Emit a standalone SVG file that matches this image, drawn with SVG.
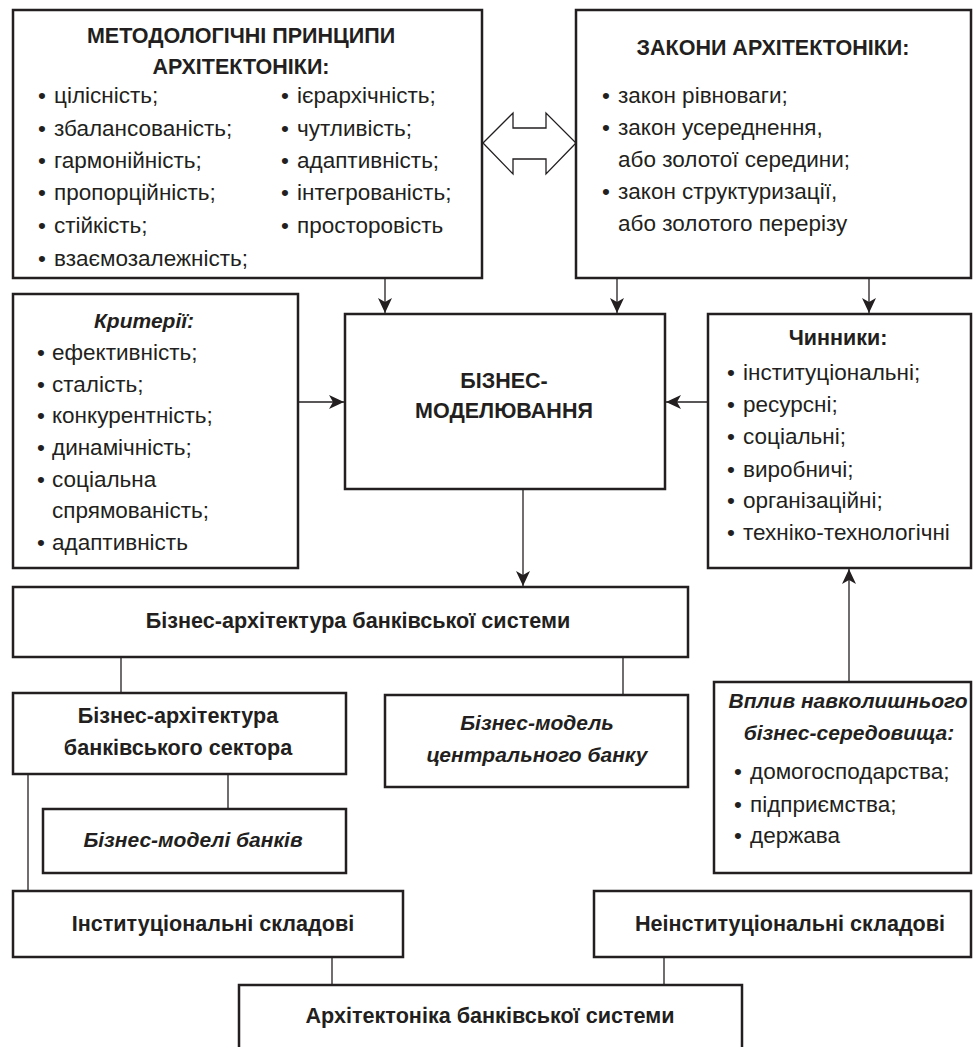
<svg xmlns="http://www.w3.org/2000/svg" width="973" height="1047" viewBox="0 0 973 1047">
<style>
.box{fill:#fff;stroke:#231f20;stroke-width:2.5}
.ln{fill:none;stroke:#231f20;stroke-width:1.3}
text{font-family:"Liberation Sans",Arial,sans-serif;fill:#231f20}
.t{font-size:21.6px;font-weight:bold}
.h{font-size:21.5px;font-weight:bold}
.i{font-size:21px;font-weight:bold;font-style:italic}
.it{font-size:22.5px}
.c{text-anchor:middle}
</style>
<defs>
<marker id="ah" viewBox="0 0 15 14" refX="15" refY="7" markerWidth="15" markerHeight="14" markerUnits="userSpaceOnUse" orient="auto">
<path d="M0,0 L15,7 L0,14 L4,7 Z" fill="#231f20"/>
</marker>
</defs>
<rect width="973" height="1047" fill="#fff"/>
<g id="connectors">
<polygon points="483,143 513,113 513,128 546,128 546,113 576,143 546,174 546,159 513,159 513,174" fill="#fff" stroke="#231f20" stroke-width="1.3"/>
<line class="ln" x1="385" y1="279" x2="385" y2="313" marker-end="url(#ah)"/>
<line class="ln" x1="617" y1="279" x2="617" y2="313" marker-end="url(#ah)"/>
<line class="ln" x1="869" y1="279" x2="869" y2="313" marker-end="url(#ah)"/>
<line class="ln" x1="298" y1="402" x2="344" y2="402" marker-end="url(#ah)"/>
<line class="ln" x1="708" y1="402" x2="666" y2="402" marker-end="url(#ah)"/>
<line class="ln" x1="523" y1="489" x2="523" y2="586" marker-end="url(#ah)"/>
<line class="ln" x1="849" y1="682" x2="849" y2="569" marker-end="url(#ah)"/>
<line class="ln" x1="121" y1="657" x2="121" y2="693"/>
<line class="ln" x1="623" y1="657" x2="623" y2="695"/>
<line class="ln" x1="228" y1="774" x2="228" y2="809"/>
<line class="ln" x1="28" y1="774" x2="28" y2="891"/>
<line class="ln" x1="332" y1="957" x2="332" y2="985"/>
<line class="ln" x1="664" y1="957" x2="664" y2="985"/>
</g>
<g id="principles">
<rect class="box" x="13" y="10" width="469" height="268"/>
<text class="h c" x="241" y="43">МЕТОДОЛОГІЧНІ ПРИНЦИПИ</text>
<text class="h c" x="241" y="74">АРХІТЕКТОНІКИ:</text>
<text class="it"><tspan x="38" y="103">•</tspan><tspan x="54">цілісність;</tspan></text>
<text class="it"><tspan x="38" y="136">•</tspan><tspan x="54">збалансованість;</tspan></text>
<text class="it"><tspan x="38" y="168">•</tspan><tspan x="54">гармонійність;</tspan></text>
<text class="it"><tspan x="38" y="200">•</tspan><tspan x="54">пропорційність;</tspan></text>
<text class="it"><tspan x="38" y="233">•</tspan><tspan x="54">стійкість;</tspan></text>
<text class="it"><tspan x="38" y="266">•</tspan><tspan x="54">взаємозалежність;</tspan></text>
<text class="it"><tspan x="281" y="103">•</tspan><tspan x="297">ієрархічність;</tspan></text>
<text class="it"><tspan x="281" y="136">•</tspan><tspan x="297">чутливість;</tspan></text>
<text class="it"><tspan x="281" y="168">•</tspan><tspan x="297">адаптивність;</tspan></text>
<text class="it"><tspan x="281" y="200">•</tspan><tspan x="297">інтегрованість;</tspan></text>
<text class="it"><tspan x="281" y="233">•</tspan><tspan x="297">просторовість</tspan></text>
</g>
<g id="laws">
<rect class="box" x="576" y="10" width="395" height="268"/>
<text class="h c" x="773" y="55">ЗАКОНИ АРХІТЕКТОНІКИ:</text>
<text class="it"><tspan x="602" y="103">•</tspan><tspan x="618">закон рівноваги;</tspan></text>
<text class="it"><tspan x="602" y="135">•</tspan><tspan x="618">закон усереднення,</tspan></text>
<text class="it" x="618" y="167">або золотої середини;</text>
<text class="it"><tspan x="602" y="199">•</tspan><tspan x="618">закон структуризації,</tspan></text>
<text class="it" x="618" y="231">або золотого перерізу</text>
</g>
<g id="criteria">
<rect class="box" x="13" y="294" width="285" height="274"/>
<text class="i c" x="144" y="328">Критерії:</text>
<text class="it"><tspan x="37" y="360">•</tspan><tspan x="52">ефективність;</tspan></text>
<text class="it"><tspan x="37" y="392">•</tspan><tspan x="52">сталість;</tspan></text>
<text class="it"><tspan x="37" y="423">•</tspan><tspan x="52">конкурентність;</tspan></text>
<text class="it"><tspan x="37" y="455">•</tspan><tspan x="52">динамічність;</tspan></text>
<text class="it"><tspan x="37" y="487">•</tspan><tspan x="52">соціальна</tspan></text>
<text class="it" x="52" y="518">спрямованість;</text>
<text class="it"><tspan x="37" y="550">•</tspan><tspan x="52">адаптивність</tspan></text>
</g>
<g id="modeling">
<rect class="box" x="345" y="314" width="320" height="175"/>
<text class="h c" x="504" y="388">БІЗНЕС-</text>
<text class="h c" x="504" y="418">МОДЕЛЮВАННЯ</text>
</g>
<g id="factors">
<rect class="box" x="708" y="314" width="263" height="254"/>
<text class="h c" x="838" y="345">Чинники:</text>
<text class="it"><tspan x="727" y="380">•</tspan><tspan x="743">інституціональні;</tspan></text>
<text class="it"><tspan x="727" y="412">•</tspan><tspan x="743">ресурсні;</tspan></text>
<text class="it"><tspan x="727" y="444">•</tspan><tspan x="743">соціальні;</tspan></text>
<text class="it"><tspan x="727" y="477">•</tspan><tspan x="743">виробничі;</tspan></text>
<text class="it"><tspan x="727" y="508">•</tspan><tspan x="743">організаційні;</tspan></text>
<text class="it"><tspan x="727" y="540">•</tspan><tspan x="743">техніко-технологічні</tspan></text>
</g>
<g id="bank-system-arch">
<rect class="box" x="13" y="587" width="675" height="70"/>
<text class="t c" x="358" y="628">Бізнес-архітектура банківської системи</text>
</g>
<g id="sector-arch">
<rect class="box" x="13" y="693" width="333" height="81"/>
<text class="t c" x="178" y="723">Бізнес-архітектура</text>
<text class="t c" x="178" y="755">банківського сектора</text>
</g>
<g id="central-bank">
<rect class="box" x="385" y="695" width="303" height="92"/>
<text class="i c" x="537" y="730">Бізнес-модель</text>
<text class="i c" x="537" y="762">центрального банку</text>
</g>
<g id="bank-models">
<rect class="box" x="43" y="809" width="303" height="64"/>
<text class="i c" x="193" y="847">Бізнес-моделі банків</text>
</g>
<g id="environment">
<rect class="box" x="714" y="682" width="257" height="191"/>
<text class="i c" x="848" y="708">Вплив навколишнього</text>
<text class="i c" x="849" y="740">бізнес-середовища:</text>
<text class="it"><tspan x="734" y="779">•</tspan><tspan x="750">домогосподарства;</tspan></text>
<text class="it"><tspan x="734" y="812">•</tspan><tspan x="750">підприємства;</tspan></text>
<text class="it"><tspan x="734" y="843">•</tspan><tspan x="750">держава</tspan></text>
</g>
<g id="institutional">
<rect class="box" x="13" y="891" width="390" height="66"/>
<text class="t c" x="213" y="931">Інституціональні складові</text>
</g>
<g id="non-institutional">
<rect class="box" x="594" y="891" width="377" height="66"/>
<text class="t c" x="790" y="931">Неінституціональні складові</text>
</g>
<g id="architectonics">
<rect class="box" x="239" y="985" width="503" height="80"/>
<text class="t c" x="490" y="1023">Архітектоніка банківської системи</text>
</g>
</svg>
